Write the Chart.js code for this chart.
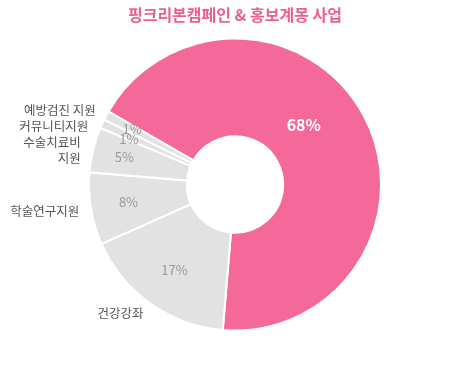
<!DOCTYPE html>
<html>
<head>
<meta charset="utf-8">
<script src="https://cdn.jsdelivr.net/npm/chart.js@4"></script>
<style>
    html, body { margin: 0; padding: 0; background: #fff; }
    #wrap { width: 470px; height: 375px; }
</style>
</head>
<body>
<div id="wrap"><canvas id="pinkChart"></canvas></div>
<script>
const categories = ["핑크리본캠페인", "건강강좌", "학술연구지원", "수술치료비\n지원", "커뮤니티지원", "예방검진 지원"];
const values = [68, 17, 8, 5, 1, 1];
const percentLabels = ["68%", "17%", "8%", "5%", "1%", "1%"];

const PINK = "#f4699a";
const GRAY = "#e2e2e2";
const FONT = "'Noto Sans CJK KR', 'Noto Sans', sans-serif";

// radius of each percent label, as a share of the outer radius
const pctRadius = [0.625, 0.715, 0.74, 0.78, 0.79, 0.80];

// put labels on a circle, then push them apart vertically (top to bottom, left side)
function spread(items, cx, cy, gap) {
    let sorted = items.slice().sort((a, b) => a.y - b.y);
    for (let k = 1; k < sorted.length; k++) {
        let prev = sorted[k - 1], cur = sorted[k];
        let need = prev.y + (prev.h + cur.h) / 2 + gap;
        if (cur.y < need) {
            cur.y = need;
            let dy = cur.y - cy;
            let dx = Math.sqrt(Math.max(cur.r * cur.r - dy * dy, 0));
            cur.x = cur.x < cx ? cx - dx : cx + dx;
        }
    }
}

const labelPlugin = {
    id: "sliceLabels",
    afterDatasetsDraw(chart) {
        let ctx = chart.ctx;
        let meta = chart.getDatasetMeta(0);
        let pcts = [], names = [];
        let cx, cy;
        meta.data.forEach((arc, i) => {
            let p = arc.getProps(["x", "y", "startAngle", "endAngle", "outerRadius"], true);
            cx = p.x; cy = p.y;
            let mid = (p.startAngle + p.endAngle) / 2;
            let ang = i === 0 ? p.startAngle + (p.endAngle - p.startAngle) * 0.445 : mid;
            let r = p.outerRadius * pctRadius[i];
            pcts.push({ i: i, r: r, x: p.x + Math.cos(ang) * r, y: p.y + Math.sin(ang) * r, h: 0 });
            if (i > 0) {
                let ro = p.outerRadius + 12;
                let lines = categories[i].split("\n");
                names.push({ i: i, r: ro, lines: lines, x: p.x + Math.cos(mid) * ro, y: p.y + Math.sin(mid) * ro, h: lines.length * 16 });
            }
        });
        spread(pcts.slice(1).filter(o => o.x < cx), cx, cy, 10);
        spread(names.filter(o => o.x < cx), cx, cy, 0);

        ctx.save();
        ctx.textBaseline = "middle";
        pcts.forEach(o => {
            ctx.textAlign = "center";
            if (o.i === 0) {
                ctx.fillStyle = "#fff";
                ctx.font = "bold 16px " + FONT;
            } else {
                ctx.fillStyle = "#999";
                ctx.font = "13px " + FONT;
            }
            ctx.fillText(percentLabels[o.i], o.x, o.y);
        });
        names.forEach(o => {
            ctx.fillStyle = "#555";
            ctx.font = "12.5px " + FONT;
            ctx.textAlign = o.x < cx ? "right" : "left";
            o.lines.forEach((t, k) => {
                ctx.fillText(t, o.x, o.y + (k - (o.lines.length - 1) / 2) * 16);
            });
        });
        ctx.restore();
    }
};

new Chart(document.getElementById("pinkChart"), {
    type: "doughnut",
    data: {
        labels: categories,
        datasets: [{
            data: values,
            backgroundColor: [PINK, GRAY, GRAY, GRAY, GRAY, GRAY],
            borderColor: "#fff",
            borderWidth: 2,
            hoverOffset: 0
        }]
    },
    options: {
        responsive: true,
        maintainAspectRatio: false,
        animation: false,
        rotation: -60,
        cutout: "33%",
        layout: { padding: { top: 0, bottom: 43.5, left: 0, right: 0 } },
        plugins: {
            legend: { display: false },
            tooltip: { enabled: false },
            title: {
                display: true,
                text: "핑크리본캠페인 & 홍보계몽 사업",
                color: "#ec5f94",
                font: { family: FONT, size: 16, weight: "bold", lineHeight: 1.2 },
                padding: { top: 5.5, bottom: 12.8 }
            }
        }
    },
    plugins: [labelPlugin]
});
</script>
</body>
</html>
